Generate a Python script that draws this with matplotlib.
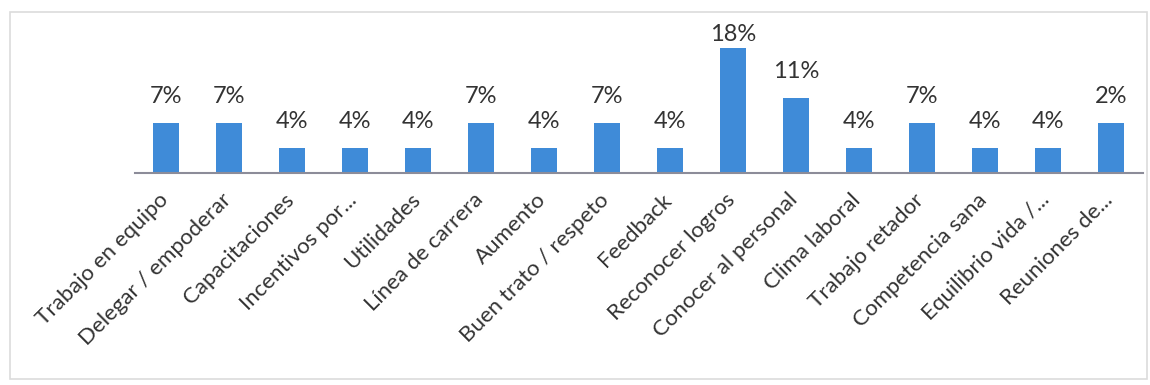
import matplotlib
matplotlib.use('Agg')
import matplotlib.pyplot as plt
from matplotlib.patches import Rectangle
from matplotlib.transforms import ScaledTranslation

# data (share of answers, %), label text as printed in the chart
categorias = ['Trabajo en equipo', 'Delegar / empoderar', 'Capacitaciones',
              'Incentivos por...', 'Utilidades', 'Línea de carrera', 'Aumento',
              'Buen trato / respeto', 'Feedback', 'Reconocer logros',
              'Conocer al personal', 'Clima laboral', 'Trabajo retador',
              'Competencia sana', 'Equilibrio vida /...', 'Reuniones de...']
valores = [7.14, 7.14, 3.57, 3.57, 3.57, 7.14, 3.57, 7.14, 3.57, 17.86,
           10.71, 3.57, 7.14, 3.57, 3.57, 7.14]
etiquetas = ['7%', '7%', '4%', '4%', '4%', '7%', '4%', '7%', '4%', '18%',
             '11%', '4%', '7%', '4%', '4%', '2%']

plt.rcParams['font.family'] = ['Lato', 'DejaVu Sans']

fig = plt.figure(figsize=(11.5, 3.85), dpi=100)
ax = fig.add_axes([0.117, 0.5506, 0.8765, 0.40])

x = list(range(len(categorias)))
bars = ax.bar(x, valores, width=0.4, color='#3f8bd8')

# labels sit above the bar, but stay inside the plot area (like Excel does)
for b, txt in zip(bars, etiquetas):
    y = min(b.get_height() + 2.3, 18.3)
    ax.text(b.get_x() + b.get_width() / 2, y, txt,
            ha='center', va='bottom', fontsize=17, color='#333333')

ax.set_xlim(-0.5, len(categorias) - 0.5)
ax.set_ylim(0, 22)
ax.set_yticks([])
ax.set_xticks(x)
ax.set_xticklabels(categorias, rotation=45, ha='right', rotation_mode='anchor',
                   fontsize=16, color='#333333')
ax.tick_params(axis='x', length=0, pad=12)
shift = ScaledTranslation(-6 / 72, 0, fig.dpi_scale_trans)
for lbl in ax.get_xticklabels():
    lbl.set_transform(lbl.get_transform() + shift)

for s in ['top', 'right', 'left']:
    ax.spines[s].set_visible(False)
ax.spines['bottom'].set_color('#8c8c99')
ax.spines['bottom'].set_linewidth(1.5)

# light frame around the chart area
fig.patches.append(Rectangle((0.009, 0.015), 0.988, 0.953, transform=fig.transFigure,
                             fill=False, edgecolor='#dcdcdc', linewidth=1.2))

fig.savefig('out.png', dpi=100, facecolor='white')
